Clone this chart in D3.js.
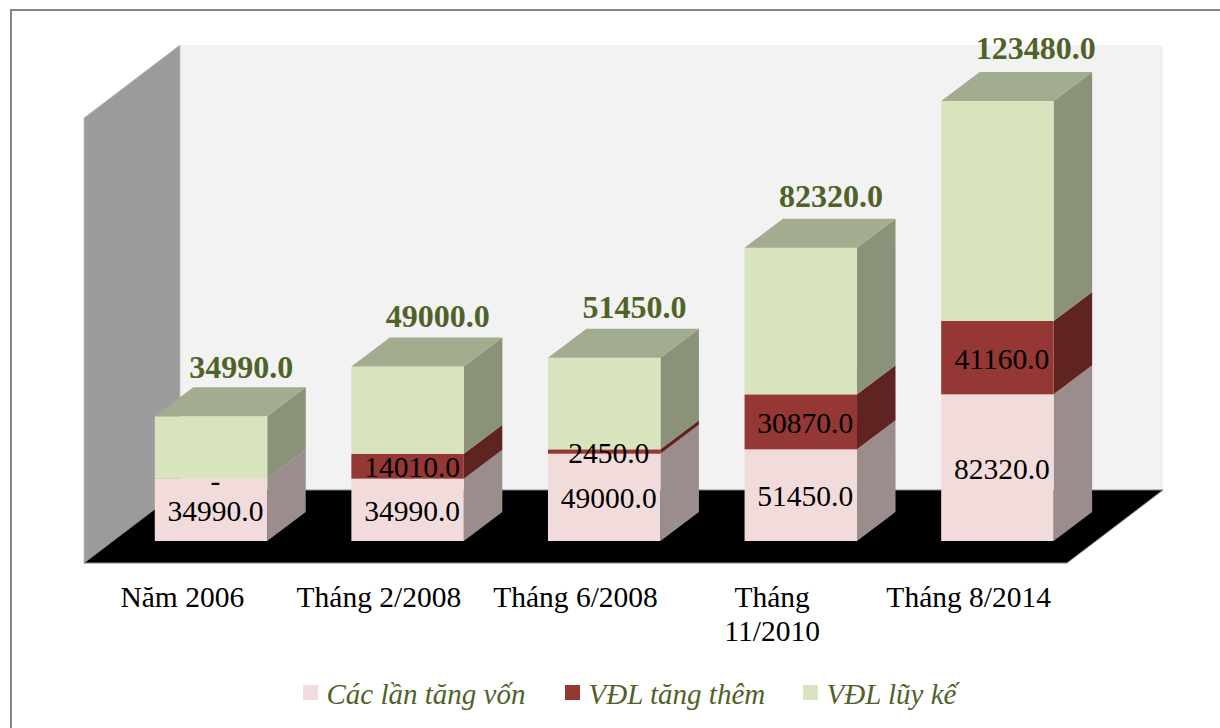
<!DOCTYPE html>
<html>
<head>
<meta charset="utf-8">
<script src="https://cdn.jsdelivr.net/npm/d3@7"></script>
<style>
  html, body { margin: 0; padding: 0; background: #fff; overflow: hidden; }
  text { font-family: "Liberation Serif", "Times New Roman", serif; }
</style>
</head>
<body>
<div id="chart"></div>
<script>
const categories = ['Năm 2006', 'Tháng 2/2008', 'Tháng 6/2008', 'Tháng 11/2010', 'Tháng 8/2014'];
const tangVon = [34990, 34990, 49000, 51450, 82320];
const tangThem = [0, 14010, 2450, 30870, 41160];
const luyKe = [34990, 49000, 51450, 82320, 123480];
const seriesNames = ['Các lần tăng vốn', 'VĐL tăng thêm', 'VĐL lũy kế'];
const seriesColors = ['#f2dcdb', '#953735', '#d7e4bd'];

const width = 1220, height = 728;

// front plane of the 3D box and its depth
const plot = { left: 84, right: 1067, top: 118, bottom: 563, dx: 96, dy: 73 };
const barDepth = { dx: 38.5, dy: 29 };
const barShift = { x: 28.7, y: -22 };

const rows = categories.map((c, i) => ({ cat: c, s0: tangVon[i], s1: tangThem[i], s2: luyKe[i] }));
const stacked = d3.stack().keys(['s0', 's1', 's2'])(rows);

const x = d3.scaleBand().domain(categories).range([plot.left, plot.right])
  .paddingInner(0.428).paddingOuter(0.214);
const xAxisScale = d3.scaleBand().domain(categories).range([plot.left, plot.right]);
const y = d3.scaleLinear().domain([0, 246960]).range([541, 101]);
// the total labels drift a little against the bar tops, so they get their own scale
const yTotalLabel = d3.scaleLinear().domain(y.domain()).range([504, 58.5]);

const shade = (col, k) => {
  const c = d3.rgb(col);
  return d3.rgb(c.r * k, c.g * k, c.b * k).formatHex();
};
const poly = pts => pts.map(p => p.join(',')).join(' ');

const svg = d3.select('#chart').append('svg')
  .attr('width', width)
  .attr('height', height);

// chart area border, runs off the picture on the right and bottom
svg.append('rect')
  .attr('x', 11).attr('y', 10)
  .attr('width', width).attr('height', height)
  .attr('fill', '#fff')
  .attr('stroke', '#868686')
  .attr('stroke-width', 2);

// back wall, side wall, floor
const walls = svg.append('g');
walls.append('polygon')
  .attr('points', poly([
    [plot.left + plot.dx, plot.top - plot.dy],
    [plot.right + plot.dx, plot.top - plot.dy],
    [plot.right + plot.dx, plot.bottom - plot.dy],
    [plot.left + plot.dx, plot.bottom - plot.dy]
  ]))
  .attr('fill', '#f2f2f2');
walls.append('polygon')
  .attr('points', poly([
    [plot.left, plot.top],
    [plot.left + plot.dx, plot.top - plot.dy],
    [plot.left + plot.dx, plot.bottom - plot.dy],
    [plot.left, plot.bottom]
  ]))
  .attr('fill', '#9b9b9b')
  .attr('stroke', '#bdbdbd')
  .attr('stroke-width', 0.8);
walls.append('polygon')
  .attr('points', poly([
    [plot.left, plot.bottom],
    [plot.left + plot.dx, plot.bottom - plot.dy],
    [plot.right + plot.dx, plot.bottom - plot.dy],
    [plot.right, plot.bottom]
  ]))
  .attr('fill', '#000')
  .attr('stroke', '#868686')
  .attr('stroke-width', 1);

// bars, left to right, and bottom to top inside each bar
const bars = svg.append('g')
  .attr('transform', `translate(${barShift.x},0)`);

categories.forEach((cat, i) => {
  const g = bars.append('g');
  const x0 = x(cat), x1 = x0 + x.bandwidth();
  stacked.forEach((layer, k) => {
    const yb = y(layer[i][0]), yt = y(layer[i][1]);
    if (yb === yt) return;
    const col = seriesColors[k];
    g.append('polygon')
      .attr('points', poly([
        [x1, yt], [x1 + barDepth.dx, yt - barDepth.dy],
        [x1 + barDepth.dx, yb - barDepth.dy], [x1, yb]
      ]))
      .attr('fill', shade(col, 0.64));
    g.append('rect')
      .attr('x', x0).attr('y', yt)
      .attr('width', x.bandwidth()).attr('height', yb - yt)
      .attr('fill', col);
    if (k === stacked.length - 1) {
      g.append('polygon')
        .attr('points', poly([
          [x0, yt], [x0 + barDepth.dx, yt - barDepth.dy],
          [x1 + barDepth.dx, yt - barDepth.dy], [x1, yt]
        ]))
        .attr('fill', shade(col, 0.755));
    }
  });
});

// data labels
const labels = svg.append('g')
  .attr('transform', `translate(${barShift.x},0)`);
categories.forEach((cat, i) => {
  const cx = x(cat) + x.bandwidth() / 2 + 4.5;
  [0, 1].forEach(k => {
    const d = stacked[k][i];
    if (d[0] === d[1]) return;
    labels.append('text')
      .attr('x', cx)
      .attr('y', (y(d[0]) + y(d[1])) / 2 + 11)
      .attr('text-anchor', 'middle')
      .attr('font-size', 29.5)
      .attr('fill', '#000')
      .text((d[1] - d[0]).toFixed(1));
  });
  const t = stacked[2][i];
  labels.append('text')
    .attr('x', x(cat) + 34.5)
    .attr('y', yTotalLabel(t[1]))
    .attr('font-size', 32)
    .attr('font-weight', 'bold')
    .attr('fill', '#4f6228')
    .text((t[1] - t[0]).toFixed(1));
});
// the first bar's red value is empty, the source shows a dash wrapped above its pink label
labels.append('text')
  .attr('x', x(categories[0]) + x.bandwidth() / 2 + 4.5)
  .attr('y', y(tangVon[0] / 2) - 19)
  .attr('text-anchor', 'middle')
  .attr('font-size', 29.5)
  .text('-');

// category axis on the front edge of the floor
const axis = svg.append('g')
  .attr('transform', `translate(0,${plot.bottom})`)
  .call(d3.axisBottom(xAxisScale).tickSize(0).tickPadding(0));
axis.select('.domain').remove();
axis.selectAll('.tick text')
  .attr('font-size', 29.5)
  .attr('font-family', '"Liberation Serif"')
  .attr('fill', '#000')
  .attr('dy', null)
  .attr('y', 0)
  .each(function (d) {
    const lines = d === 'Tháng 11/2010' ? ['Tháng', '11/2010'] : [d];
    const el = d3.select(this).text(null);
    lines.forEach((l, i) => {
      el.append('tspan').attr('x', 0).attr('y', 44 + i * 34).text(l);
    });
  });

// legend
const legend = svg.append('g');
const legendX = [303, 565, 803];
seriesNames.forEach((name, i) => {
  legend.append('rect')
    .attr('x', legendX[i]).attr('y', 685)
    .attr('width', 15).attr('height', 15)
    .attr('fill', seriesColors[i]);
  legend.append('text')
    .attr('x', legendX[i] + 23.5).attr('y', 704)
    .attr('font-size', 29)
    .attr('font-style', 'italic')
    .attr('fill', '#4f6228')
    .text(name);
});
</script>
</body>
</html>
